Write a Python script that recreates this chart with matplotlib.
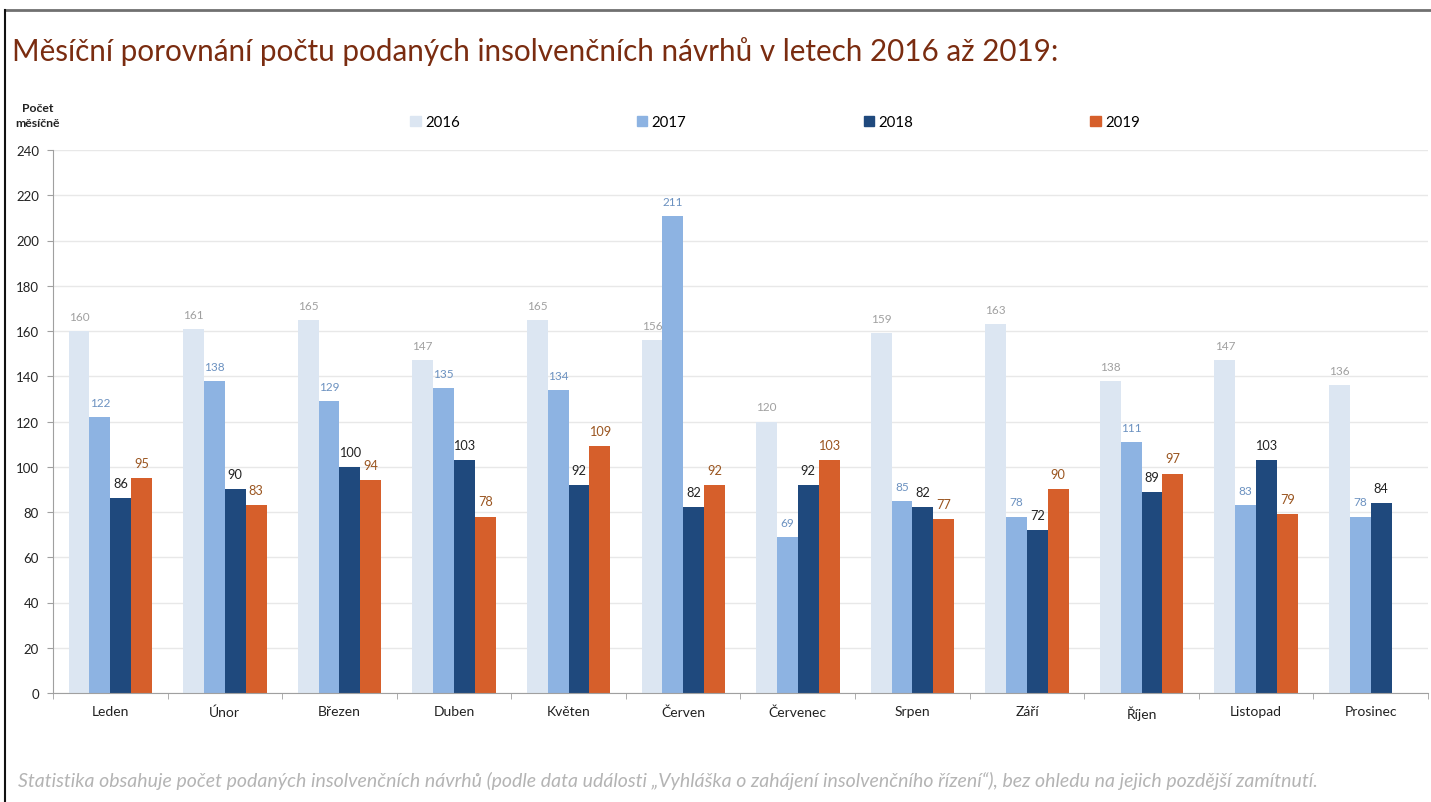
import matplotlib
matplotlib.use("Agg")
import matplotlib.pyplot as plt
from matplotlib.lines import Line2D
from matplotlib.patches import Patch
import numpy as np

plt.rcParams['font.family'] = ['Lato', 'DejaVu Sans']

months = ["Leden", "Únor", "Březen", "Duben", "Květen", "Červen", "Červenec",
          "Srpen", "Září", "Říjen", "Listopad", "Prosinec"]
years = ["2016", "2017", "2018", "2019"]
v2016 = [160, 161, 165, 147, 165, 156, 120, 159, 163, 138, 147, 136]
v2017 = [122, 138, 129, 135, 134, 211, 69, 85, 78, 111, 83, 78]
v2018 = [86, 90, 100, 103, 92, 82, 92, 82, 72, 89, 103, 84]
v2019 = [95, 83, 94, 78, 109, 92, 103, 77, 90, 97, 79]  # prosinec chybí

series = [v2016, v2017, v2018, v2019]
colors = ["#dce6f2", "#8db3e2", "#1f497d", "#d65f2b"]
lab_colors = ["#a0a0a0", "#6b91c0", "#222222", "#9a5520"]
lab_sizes = [8.5, 8.5, 9.2, 9.2]

W, H = 1431, 803
fig = plt.figure(figsize=(W / 100, H / 100), dpi=100)
ax = fig.add_axes([53 / W, 1 - 694 / H, (1428 - 53) / W, (694 - 151) / H])

x = np.arange(len(months))
bw = 0.182
for i, vals in enumerate(series):
    xs = x[:len(vals)] + (i - 1.5) * bw
    ax.bar(xs, vals, width=bw, color=colors[i], zorder=2)
    for xx, v in zip(xs, vals):
        ax.text(xx, v + 4, str(v), ha="center", va="bottom",
                fontsize=lab_sizes[i], color=lab_colors[i])

ax.set_xlim(-0.5, len(months) - 0.5)
ax.set_ylim(0, 240)
ax.set_yticks(range(0, 241, 20))
ax.set_xticks(x)
ax.set_xticklabels(months, fontsize=10, color="#222222")
ax.set_xticks(np.arange(-0.5, len(months), 1), minor=True)
ax.tick_params(axis="x", which="major", length=0, pad=9)
ax.tick_params(axis="x", which="minor", length=4, color="#a0a0a0")
ax.tick_params(axis="y", length=4, color="#a0a0a0", labelsize=9.5,
               labelcolor="#222222", pad=6)
ax.grid(axis="y", color="#e8e8e8", linewidth=1, zorder=0)
for s in ["top", "right"]:
    ax.spines[s].set_visible(False)
ax.spines["left"].set_color("#a0a0a0")
ax.spines["bottom"].set_color("#a0a0a0")

handles = [Patch(color=c) for c in colors]
fig.legend(handles, years, loc="center left", ncol=4, frameon=False,
           bbox_to_anchor=(410 / W, 1 - 123 / H), fontsize=10.8,
           handlelength=0.7, handleheight=0.7, handletextpad=0.3,
           columnspacing=11.8, borderaxespad=0, borderpad=0)

fig.text(12 / W, 1 - 52 / H,
         "Měsíční porovnání počtu podaných insolvenčních návrhů v letech 2016 až 2019:",
         fontsize=21.3, color="#7a2c10", va="center", ha="left")
fig.text(38 / W, 1 - 116 / H, "Počet\nměsíčně", fontsize=8.8, fontweight="bold",
         ha="center", va="center", color="#222222", linespacing=1.5)
fig.text(18 / W, 1 - 781 / H,
         "Statistika obsahuje počet podaných insolvenčních návrhů (podle data události "
         "„Vyhláška o zahájení insolvenčního řízení“), bez ohledu na jejich pozdější zamítnutí.",
         fontsize=14.0, style="italic", color="#b4b4b4", va="center", ha="left")

# rámeček
fig.add_artist(Line2D([5 / W, 1], [1 - 11 / H, 1 - 11 / H], color="#707070", lw=2))
fig.add_artist(Line2D([5 / W, 5 / W], [0, 1 - 11 / H], color="#111111", lw=1.5))

fig.savefig("out.png", dpi=100)
